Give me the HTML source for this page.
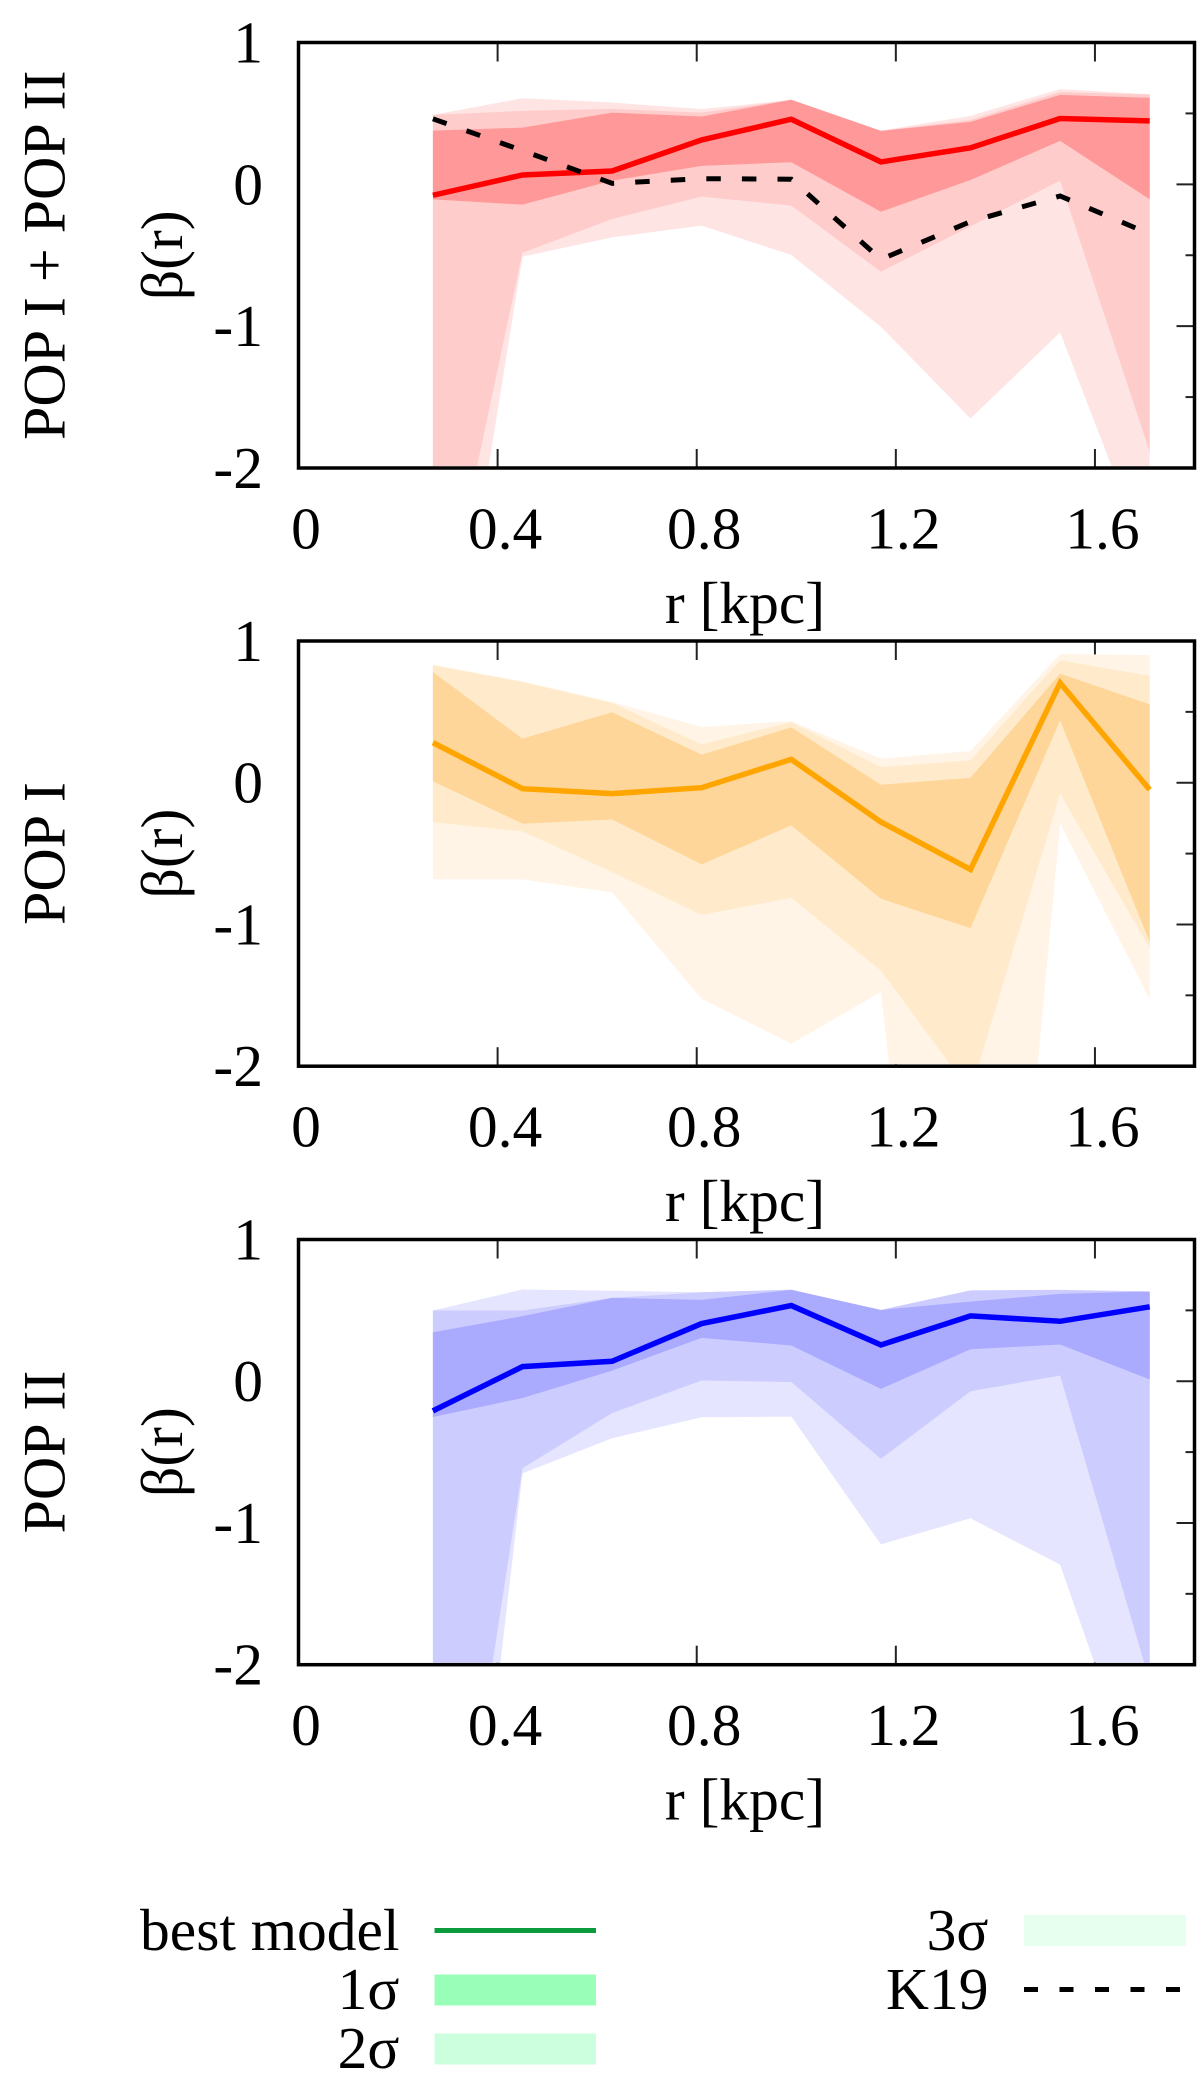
<!DOCTYPE html>
<html lang="en">
<head>
<meta charset="utf-8">
<title>Anisotropy profile beta(r) by stellar population</title>
<style>
html,body{margin:0;padding:0;background:#fff;width:1200px;height:2098px;overflow:hidden}
svg{display:block}
text{font-family:"Liberation Serif","DejaVu Serif",serif;font-size:59.5px;fill:#000}
</style>
</head>
<body>
<svg id="figure" xmlns="http://www.w3.org/2000/svg" width="1200" height="2098" viewBox="0 0 1200 2098">
  <g id="panels"></g>
  <g id="legend">
    <g>
      <text x="399.5" y="1950" text-anchor="end">best model</text>
      <line x1="434.5" x2="596" y1="1930.5" y2="1930.5" stroke="#0b9a3c" stroke-width="5"/>
    </g>
    <g>
      <text x="399.5" y="2009" text-anchor="end">1σ</text>
      <rect x="434.5" y="1974.5" width="161.5" height="31" fill="#99ffb8"/>
    </g>
    <g>
      <text x="399.5" y="2068" text-anchor="end">2σ</text>
      <rect x="434.5" y="2033.5" width="161.5" height="31" fill="#ccffdd"/>
    </g>
    <g>
      <text x="988.5" y="1950" text-anchor="end">3σ</text>
      <rect x="1024" y="1915" width="162" height="31" fill="#e6ffee"/>
    </g>
    <g>
      <text x="988.5" y="2009" text-anchor="end">K19</text>
      <line x1="1024" x2="1186" y1="1989.5" y2="1989.5" stroke="#000" stroke-width="5" stroke-dasharray="14 21.5"/>
    </g>
  </g>
</svg>
<script>
// Shared axis data
const radiusKpc = [0.27, 0.45, 0.63, 0.81, 0.99, 1.17, 1.35, 1.53, 1.71];
const xTickValues = [0, 0.4, 0.8, 1.2, 1.6];
const xTickLabels = ['0', '0.4', '0.8', '1.2', '1.6'];
const yTickValues = [1, 0, -1, -2];
const yTickLabels = ['1', '0', '-1', '-2'];
const yMinorTickValues = [0.5, -0.5, -1.5];

// POP I + POP II
const allBest = [-0.077, 0.066, 0.094, 0.313, 0.459, 0.158, 0.257, 0.464, 0.447];
const allK19 = [0.462, 0.238, 0.007, 0.040, 0.036, -0.529, -0.263, -0.082, -0.350];
const allUpper1 = [0.379, 0.400, 0.506, 0.478, 0.596, 0.377, 0.440, 0.631, 0.610];
const allLower1 = [-0.106, -0.143, 0.026, 0.130, 0.156, -0.193, 0.031, 0.306, -0.106];
const allUpper2 = [0.490, 0.518, 0.532, 0.506, 0.596, 0.377, 0.454, 0.650, 0.633];
const allLower2 = [-3.449, -0.482, -0.244, -0.087, -0.150, -0.616, -0.296, 0.026, -1.887];
const allUpper3 = [0.490, 0.607, 0.577, 0.530, 0.596, 0.379, 0.483, 0.671, 0.636];
const allLower3 = [-4.420, -0.510, -0.374, -0.291, -0.498, -1.004, -1.651, -1.044, -2.687];

// POP I
const popOneBest = [0.283, -0.042, -0.077, -0.035, 0.165, -0.277, -0.612, 0.704, -0.049];
const popOneUpper1 = [0.781, 0.311, 0.497, 0.198, 0.391, -0.014, 0.035, 0.770, 0.553];
const popOneLower1 = [0.010, -0.289, -0.259, -0.576, -0.301, -0.819, -1.026, 0.440, -1.125];
const popOneUpper2 = [0.828, 0.711, 0.563, 0.271, 0.428, 0.111, 0.158, 0.864, 0.753];
const popOneLower2 = [-0.278, -0.343, -0.630, -0.932, -0.812, -1.325, -2.183, -0.077, -1.167];
const popOneUpper3 = [0.833, 0.715, 0.570, 0.393, 0.435, 0.170, 0.224, 0.908, 0.901];
const popOneLower3 = [-0.682, -0.682, -0.774, -1.525, -1.842, -1.477, -7.100, -0.289, -1.525];

// POP II
const popTwoBest = [-0.209, 0.103, 0.141, 0.407, 0.534, 0.256, 0.461, 0.423, 0.525];
const popTwoUpper1 = [0.346, 0.459, 0.588, 0.574, 0.645, 0.503, 0.562, 0.616, 0.633];
const popTwoLower1 = [-0.252, -0.118, 0.075, 0.306, 0.252, -0.054, 0.226, 0.259, 0.012];
const popTwoUpper2 = [0.499, 0.499, 0.588, 0.628, 0.645, 0.503, 0.640, 0.645, 0.633];
const popTwoLower2 = [-4.718, -0.614, -0.224, 0.005, -0.005, -0.548, -0.071, 0.040, -2.118];
const popTwoUpper3 = [0.499, 0.647, 0.638, 0.628, 0.647, 0.503, 0.642, 0.645, 0.633];
const popTwoLower3 = [-6.083, -0.650, -0.402, -0.254, -0.250, -1.151, -0.967, -1.294, -3.104];

const SVG_NS = 'http://www.w3.org/2000/svg';
const PLOT_LEFT = 298.5;
const PLOT_RIGHT = 1194.5;
const X_MIN = 0;
const X_MAX = 1.8;
const Y_MIN = -2;
const Y_MAX = 1;

function xScale(r) {
  return PLOT_LEFT + (r - X_MIN) / (X_MAX - X_MIN) * (PLOT_RIGHT - PLOT_LEFT);
}
function makeYScale(top, bottom) {
  return function (v) {
    return bottom - (v - Y_MIN) / (Y_MAX - Y_MIN) * (bottom - top);
  };
}
function svgEl(tag, parent) {
  const el = document.createElementNS(SVG_NS, tag);
  parent.appendChild(el);
  return el;
}
function linePath(values, yScale) {
  return values.map(function (v, i) {
    return (i ? 'L' : 'M') + xScale(radiusKpc[i]).toFixed(2) + ' ' + yScale(v).toFixed(2);
  }).join(' ');
}
// Cut a polygon at the plot floor so marks never extend outside the axes.
function clipToFloor(points, floorY) {
  const out = [];
  for (let i = 0; i < points.length; i++) {
    const a = points[i];
    const b = points[(i + 1) % points.length];
    const aIn = a[1] <= floorY;
    const bIn = b[1] <= floorY;
    if (aIn) out.push(a);
    if (aIn !== bIn) {
      const t = (floorY - a[1]) / (b[1] - a[1]);
      out.push([a[0] + t * (b[0] - a[0]), floorY]);
    }
  }
  return out;
}
function bandPath(upper, lower, yScale, floorY) {
  const up = upper.map(function (v, i) {
    return [xScale(radiusKpc[i]), yScale(v)];
  });
  const low = lower.map(function (v, i) {
    return [xScale(radiusKpc[i]), yScale(v)];
  }).reverse();
  const poly = clipToFloor(up.concat(low), floorY);
  return poly.map(function (p, i) {
    return (i ? 'L' : 'M') + p[0].toFixed(2) + ' ' + p[1].toFixed(2);
  }).join(' ') + ' Z';
}
function drawTick(group, x1, y1, x2, y2, name) {
  const t = svgEl('line', group);
  
  
  t.setAttribute('x1', x1);
  t.setAttribute('y1', y1);
  t.setAttribute('x2', x2);
  t.setAttribute('y2', y2);
  t.setAttribute('stroke', '#222');
  t.setAttribute('stroke-width', '2');
}
function drawBand(group, floorY, upper, lower, yScale, fill, name) {
  const b = svgEl('path', group);
  
  
  b.setAttribute('d', bandPath(upper, lower, yScale, floorY));
  b.setAttribute('fill', fill);
}

function drawPanel(cfg) {
  const root = document.getElementById('panels');
  const yScale = makeYScale(cfg.top, cfg.bottom);
  const floorY = cfg.bottom - 2;
  const g = svgEl('g', root);
  
  

  xTickValues.forEach(function (v) {
    if (v === 0) return;
    const x = xScale(v);
    drawTick(g, x, cfg.top, x, cfg.top + 19, 'x-tick-top');
    drawTick(g, x, cfg.bottom, x, cfg.bottom - 19, 'x-tick-bottom');
  });
  yTickValues.forEach(function (v) {
    drawTick(g, PLOT_RIGHT, yScale(v), PLOT_RIGHT - 18, yScale(v), 'y-tick-major');
  });
  yMinorTickValues.forEach(function (v) {
    drawTick(g, PLOT_RIGHT, yScale(v), PLOT_RIGHT - 9, yScale(v), 'y-tick-minor');
  });

  drawBand(g, floorY, cfg.upper3, cfg.lower3, yScale, cfg.colors[2], cfg.name + '-band-3-sigma');
  drawBand(g, floorY, cfg.upper2, cfg.lower2, yScale, cfg.colors[1], cfg.name + '-band-2-sigma');
  drawBand(g, floorY, cfg.upper1, cfg.lower1, yScale, cfg.colors[0], cfg.name + '-band-1-sigma');

  const best = svgEl('path', g);
  
  
  best.setAttribute('d', linePath(cfg.best, yScale));
  best.setAttribute('fill', 'none');
  best.setAttribute('stroke', cfg.lineColor);
  best.setAttribute('stroke-width', '5.5');
  best.setAttribute('stroke-linejoin', 'miter');

  if (cfg.k19) {
    const k = svgEl('path', g);
    
    
    k.setAttribute('d', linePath(cfg.k19, yScale));
    k.setAttribute('fill', 'none');
    k.setAttribute('stroke', '#000');
    k.setAttribute('stroke-width', '5');
    k.setAttribute('stroke-dasharray', '14.5 21.1');
  }

  const frame = svgEl('rect', g);
  
  
  frame.setAttribute('x', PLOT_LEFT);
  frame.setAttribute('y', cfg.top);
  frame.setAttribute('width', PLOT_RIGHT - PLOT_LEFT);
  frame.setAttribute('height', cfg.bottom - cfg.top);
  frame.setAttribute('fill', 'none');
  frame.setAttribute('stroke', '#000');
  frame.setAttribute('stroke-width', '3.5');

  xTickLabels.forEach(function (label, i) {
    const t = svgEl('text', g);
    
    
    t.setAttribute('x', xScale(xTickValues[i]) + 7.5);
    t.setAttribute('y', cfg.bottom + 80.5);
    t.setAttribute('text-anchor', 'middle');
    t.textContent = label;
  });
  yTickLabels.forEach(function (label, i) {
    const t = svgEl('text', g);
    
    
    t.setAttribute('x', 263);
    t.setAttribute('y', yScale(yTickValues[i]) + 20);
    t.setAttribute('text-anchor', 'end');
    t.textContent = label;
  });

  const xTitle = svgEl('text', g);
  
  
  xTitle.setAttribute('x', 745);
  xTitle.setAttribute('y', cfg.bottom + 155);
  xTitle.setAttribute('text-anchor', 'middle');
  xTitle.textContent = 'r [kpc]';

  const mid = (cfg.top + cfg.bottom) / 2;
  const yTitle = svgEl('text', g);
  
  
  yTitle.setAttribute('transform', 'translate(182 ' + mid + ') rotate(-90)');
  yTitle.setAttribute('text-anchor', 'middle');
  yTitle.textContent = 'β(r)';

  const popTitle = svgEl('text', g);
  
  
  popTitle.setAttribute('transform', 'translate(64.5 ' + mid + ') rotate(-90)');
  popTitle.setAttribute('text-anchor', 'middle');
  popTitle.setAttribute('font-size', '60');
  popTitle.setAttribute('style', 'font-size:60px');
  popTitle.textContent = cfg.title;
}

drawPanel({
  name: 'pop-all', title: 'POP I + POP II', top: 42.5, bottom: 468,
  best: allBest, k19: allK19,
  upper1: allUpper1, lower1: allLower1,
  upper2: allUpper2, lower2: allLower2,
  upper3: allUpper3, lower3: allLower3,
  lineColor: '#ff0000', colors: ['#ff9999', '#ffcccc', '#ffe4e4']
});
drawPanel({
  name: 'pop-one', title: 'POP I', top: 641, bottom: 1066.2,
  best: popOneBest,
  upper1: popOneUpper1, lower1: popOneLower1,
  upper2: popOneUpper2, lower2: popOneLower2,
  upper3: popOneUpper3, lower3: popOneLower3,
  lineColor: '#ffa500', colors: ['#ffd699', '#ffebcc', '#fff4e5']
});
drawPanel({
  name: 'pop-two', title: 'POP II', top: 1239.5, bottom: 1664.7,
  best: popTwoBest,
  upper1: popTwoUpper1, lower1: popTwoLower1,
  upper2: popTwoUpper2, lower2: popTwoLower2,
  upper3: popTwoUpper3, lower3: popTwoLower3,
  lineColor: '#0000ff', colors: ['#aaaaff', '#ccccff', '#e5e5ff']
});
</script>
</body>
</html>
